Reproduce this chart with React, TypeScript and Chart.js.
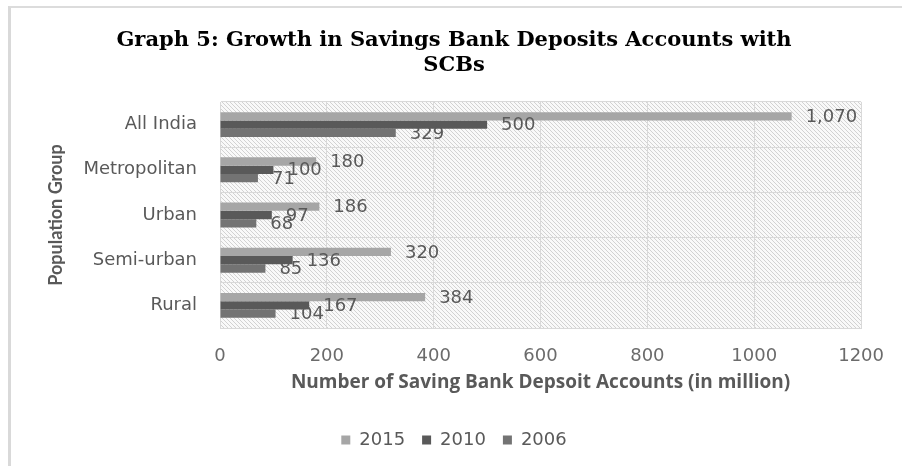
import React, { useEffect, useRef } from "react";
import { Chart, registerables } from "chart.js";

Chart.register(...registerables);

const categories = ["All India", "Metropolitan", "Urban", "Semi-urban", "Rural"];
const seriesNames = ["2015", "2010", "2006"];
const values2015 = [1070, 180, 186, 320, 384];
const values2010 = [500, 100, 97, 136, 167];
const values2006 = [329, 71, 68, 85, 104];
const seriesColors = ["#a6a6a6", "#595959", "#737373"];
const titleLines = ["Graph 5: Growth in Savings Bank Deposits Accounts with", "SCBs"];
const xAxisTitle = "Number of Saving Bank Depsoit Accounts (in million)";
const yAxisTitle = "Population Group";
const xMin = 0;
const xMax = 1200;
const xStep = 200;

const SANS = "'DejaVu Sans', Verdana, sans-serif";
const TITLE_FONT = "'DejaVu Serif', serif";
const X_TITLE_FONT = "'Open Sans', Lato, sans-serif";
const Y_TITLE_FONT = "Lato, 'Open Sans', sans-serif";

function makePattern(ctx: CanvasRenderingContext2D): CanvasPattern | string {
  const tile = document.createElement("canvas");
  tile.width = 4;
  tile.height = 4;
  const t = tile.getContext("2d");
  if (!t) return "#eeeeee";
  const img = t.createImageData(4, 4);
  for (let y = 0; y < 4; y++) {
    for (let x = 0; x < 4; x++) {
      const i = (y * 4 + x) * 4;
      const on = (x - y + 4) % 4 === 0;
      const v = on ? 210 : 249;
      img.data[i] = v;
      img.data[i + 1] = v;
      img.data[i + 2] = v;
      img.data[i + 3] = 255;
    }
  }
  t.putImageData(img, 0, 0);
  return ctx.createPattern(tile, "repeat") || "#eeeeee";
}

const plotBackground = {
  id: "plotBackground",
  beforeDraw(chart: any) {
    const { ctx, chartArea } = chart;
    if (!chartArea) return;
    ctx.save();
    ctx.fillStyle = makePattern(ctx);
    ctx.fillRect(chartArea.left, chartArea.top, chartArea.right - chartArea.left, chartArea.bottom - chartArea.top);
    ctx.restore();
  },
};

const valueLabels = {
  id: "valueLabels",
  afterDatasetsDraw(chart: any) {
    const { ctx } = chart;
    ctx.save();
    ctx.font = `18px ${SANS}`;
    ctx.fillStyle = "#595959";
    ctx.textAlign = "left";
    ctx.textBaseline = "middle";
    chart.data.datasets.forEach((ds: any, di: number) => {
      const meta = chart.getDatasetMeta(di);
      meta.data.forEach((el: any, i: number) => {
        const v = ds.data[i] as number;
        ctx.fillText(v.toLocaleString("en-US"), el.x + 14, el.y + 1);
      });
    });
    ctx.restore();
  },
};

export default function App() {
  const canvasRef = useRef<HTMLCanvasElement | null>(null);

  useEffect(() => {
    if (!canvasRef.current) return;
    const allSeries = [values2015, values2010, values2006];
    const chart = new Chart(canvasRef.current, {
      type: "bar",
      data: {
        labels: categories,
        datasets: seriesNames.map((name, i) => ({
          label: name,
          data: allSeries[i],
          backgroundColor: seriesColors[i],
          borderWidth: 0,
          barPercentage: 1,
          categoryPercentage: 0.55,
        })),
      },
      options: {
        indexAxis: "y",
        responsive: false,
        animation: false,
        layout: { padding: { left: 45, right: 39, top: 0, bottom: 7 } },
        plugins: {
          title: {
            display: true,
            text: titleLines,
            color: "#000000",
            font: { family: TITLE_FONT, size: 21, weight: "bold", lineHeight: 1.2 },
            padding: { top: 28, bottom: 23.6 },
          },
          legend: {
            display: true,
            position: "bottom",
            labels: {
              boxWidth: 9,
              boxHeight: 9,
              padding: 17,
              color: "#595959",
              font: { family: SANS, size: 18 },
            },
          },
          tooltip: { enabled: false },
        },
        scales: {
          x: {
            type: "linear",
            min: xMin,
            max: xMax,
            ticks: {
              stepSize: xStep,
              padding: 18,
              color: "#6b6b6b",
              font: { family: SANS, size: 18 },
              callback: (v: any) => String(v),
            },
            grid: { color: "#d9d9d9", drawTicks: false },
            border: { display: true, color: "#d9d9d9" },
            title: {
              display: true,
              text: xAxisTitle,
              color: "#595959",
              font: { family: X_TITLE_FONT, size: 19, weight: "bold", lineHeight: 1.2 },
              padding: { top: 0, bottom: 20 },
            },
            afterFit: (scale: any) => {
              scale.height = 86;
            },
          },
          y: {
            type: "category",
            ticks: {
              padding: 23,
              color: "#595959",
              font: { family: SANS, size: 18 },
            },
            grid: { color: "#d9d9d9", drawTicks: false, offset: true },
            border: { display: true, color: "#d9d9d9" },
            title: {
              display: true,
              text: yAxisTitle,
              color: "#595959",
              font: { family: Y_TITLE_FONT, size: 18, weight: "bold", lineHeight: 1.2 },
              padding: { top: 0, bottom: 0 },
            },
            afterFit: (scale: any) => {
              scale.width = 175;
            },
          },
        },
      },
      plugins: [plotBackground, valueLabels],
    } as any);
    return () => chart.destroy();
  }, []);

  return (
    <div style={{ position: "fixed", left: 0, top: 0, width: 902, height: 466, background: "#ffffff" }}>
      <div
        style={{
          position: "absolute",
          left: 8,
          top: 6,
          right: 0,
          bottom: 0,
          borderLeft: "3px solid #d9d9d9",
          borderTop: "2px solid #dcdcdc",
        }}
      />
      <canvas
        ref={canvasRef}
        width={902}
        height={466}
        style={{ position: "absolute", left: 0, top: 0, width: 902, height: 466, display: "block" }}
      />
    </div>
  );
}
